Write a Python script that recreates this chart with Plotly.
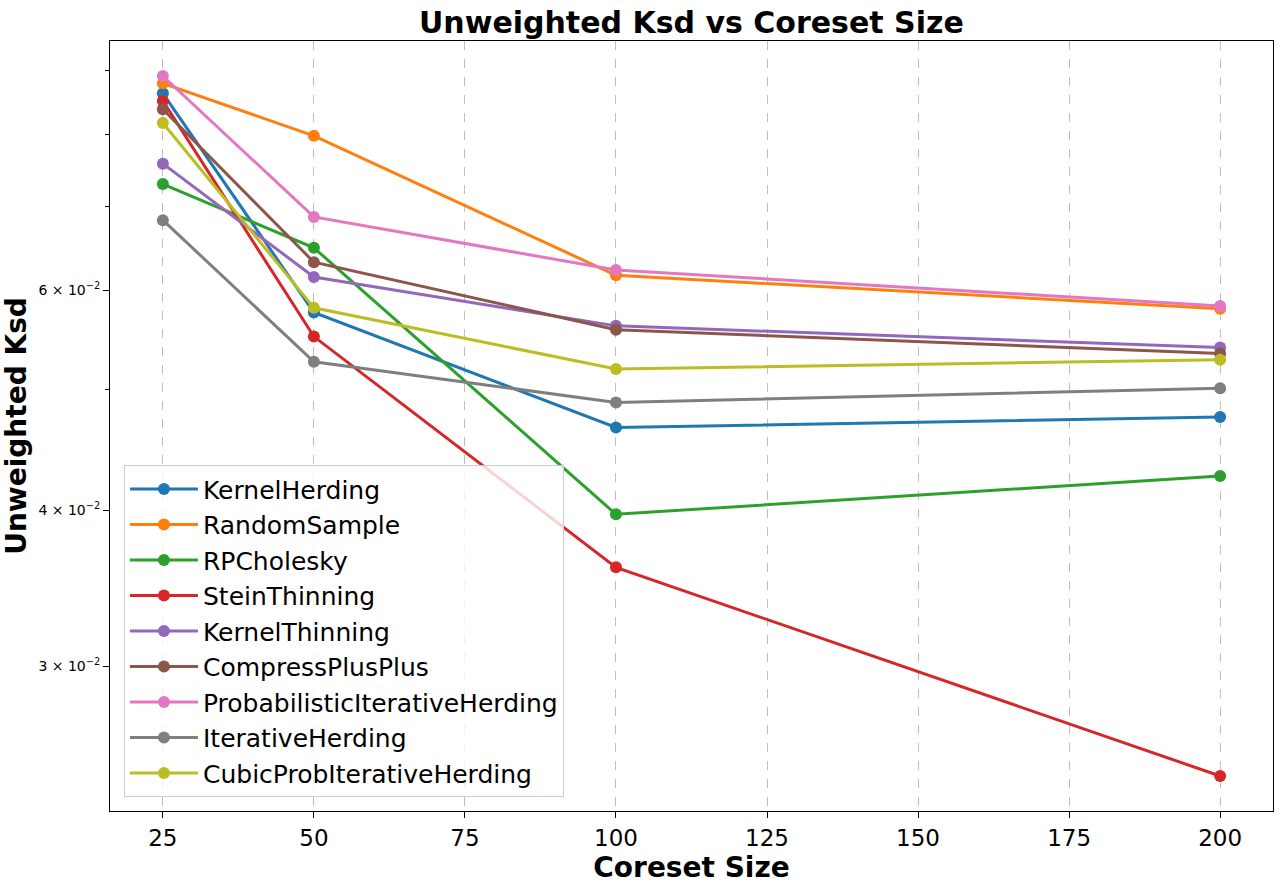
import plotly.graph_objects as go
import math

coreset_sizes = [25, 50, 100, 200]

kernel_herding = [0.0863, 0.0576, 0.0466, 0.0475]
random_sample = [0.0879, 0.0798, 0.0617, 0.0580]
rp_cholesky = [0.0730, 0.0649, 0.0397, 0.0426]
stein_thinning = [0.0851, 0.0551, 0.0360, 0.0245]
kernel_thinning = [0.0758, 0.0615, 0.0562, 0.0540]
compress_plus_plus = [0.0838, 0.0632, 0.0558, 0.0534]
prob_iterative_herding = [0.0891, 0.0687, 0.0623, 0.0583]
iterative_herding = [0.0683, 0.0526, 0.0488, 0.0501]
cubic_prob_iterative_herding = [0.0817, 0.0581, 0.0519, 0.0528]

series_names = ["KernelHerding", "RandomSample", "RPCholesky", "SteinThinning",
                "KernelThinning", "CompressPlusPlus", "ProbabilisticIterativeHerding",
                "IterativeHerding", "CubicProbIterativeHerding"]
series_values = [kernel_herding, random_sample, rp_cholesky, stein_thinning,
                 kernel_thinning, compress_plus_plus, prob_iterative_herding,
                 iterative_herding, cubic_prob_iterative_herding]
colors = ["#1f77b4", "#ff7f0e", "#2ca02c", "#d62728", "#9467bd",
          "#8c564b", "#e377c2", "#7f7f7f", "#bcbd22"]

x_ticks = [25, 50, 75, 100, 125, 150, 175, 200]
y_major_ticks = [0.03, 0.04, 0.06]
y_major_labels = ["3 × 10<sup>−2</sup>", "4 × 10<sup>−2</sup>", "6 × 10<sup>−2</sup>"]
y_minor_ticks = [0.05, 0.07, 0.08, 0.09]

FONT = "DejaVu Sans"

fig = go.Figure()
for name, vals, col in zip(series_names, series_values, colors):
    fig.add_trace(go.Scatter(
        x=coreset_sizes, y=vals, name=name, mode="lines+markers",
        line=dict(color=col, width=3),
        marker=dict(color=col, size=12),
    ))

# matplotlib-style 5% margins
all_vals = [v for s in series_values for v in s]
lmin, lmax = math.log10(min(all_vals)), math.log10(max(all_vals))
lpad = 0.05 * (lmax - lmin)
xpad = 0.05 * (max(coreset_sizes) - min(coreset_sizes))

fig.update_layout(
    width=1282, height=888,
    margin=dict(l=110, r=9, t=41, b=77),
    plot_bgcolor="white", paper_bgcolor="white",
    font=dict(family=FONT, color="black"),
    title=dict(text="<b>Unweighted Ksd vs Coreset Size</b>",
               font=dict(family=FONT, size=30, color="black"),
               x=0.5393, xanchor="center", y=0.975, yanchor="middle"),
    xaxis=dict(
        range=[min(coreset_sizes) - xpad, max(coreset_sizes) + xpad],
        tickvals=x_ticks, ticks="outside", ticklen=6, tickcolor="black",
        tickfont=dict(family=FONT, size=23, color="black"),
        showline=True, linecolor="black", linewidth=1, mirror=True,
        showgrid=True, gridcolor="#bfbfbf", griddash="dash", gridwidth=1,
        zeroline=False,
        title=dict(text="<b>Coreset Size</b>", font=dict(family=FONT, size=28, color="black"), standoff=0),
    ),
    yaxis=dict(
        type="log",
        range=[lmin - lpad, lmax + lpad],
        tickvals=y_major_ticks, ticktext=y_major_labels,
        ticks="outside", ticklen=6, tickcolor="black",
        tickfont=dict(family=FONT, size=14, color="black"),
        minor=dict(tickvals=y_minor_ticks, ticks="outside", ticklen=4, tickcolor="black", showgrid=False),
        showline=True, linecolor="black", linewidth=1, mirror=True,
        showgrid=False, zeroline=False,
        title=dict(text="<b>Unweighted Ksd</b>", font=dict(family=FONT, size=28, color="black"), standoff=6),
    ),
    legend=dict(
        x=0.012, y=0.018, xanchor="left", yanchor="bottom",
        bgcolor="rgba(255,255,255,0.8)", bordercolor="#cccccc", borderwidth=1,
        font=dict(family=FONT, size=25, color="black"),
        itemwidth=68, tracegroupgap=0,
    ),
    showlegend=True,
)

fig.write_html("out.html")
